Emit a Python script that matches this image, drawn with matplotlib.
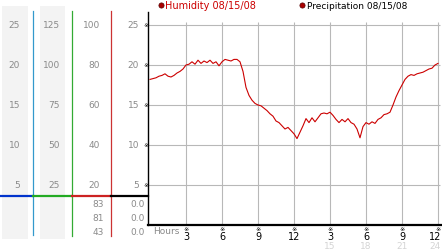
import matplotlib.pyplot as plt
from matplotlib.transforms import blended_transform_factory as blend

# humidity readings every 15 minutes, 0h .. 24h
hours = [i * 0.25 for i in range(97)]
humidity = [
    18.2, 18.3, 18.4, 18.6, 18.7, 18.9, 18.6, 18.5, 18.7, 19.0, 19.2, 19.5,
    20.0, 20.1, 20.4, 20.1, 20.6, 20.2, 20.5, 20.3, 20.6, 20.2, 20.4, 19.9,
    20.4, 20.7, 20.6, 20.5, 20.7, 20.7, 20.4, 19.2, 17.2, 16.2, 15.6, 15.2,
    15.0, 14.9, 14.6, 14.3, 13.9, 13.6, 13.0, 12.8, 12.4, 12.0, 12.2, 11.8,
    11.4, 10.8, 11.6, 12.4, 13.3, 12.8, 13.4, 12.9, 13.4, 13.9, 14.0, 13.9,
    14.1, 13.7, 13.2, 12.8, 13.2, 12.9, 13.3, 12.8, 12.6, 12.0, 10.9, 12.3,
    12.8, 12.6, 12.9, 12.7, 13.2, 13.4, 13.8, 13.9, 14.1, 15.0, 16.0, 16.8,
    17.5, 18.2, 18.6, 18.8, 18.7, 18.9, 19.0, 19.1, 19.3, 19.5, 19.6, 20.0,
    20.2,
]

grid_hours = [3, 6, 9, 12, 15, 18, 21, 24]
hour_labels = ["3", "6", "9", "12", "3", "6", "9", "12"]
late_hours = [15, 18, 21, 24]
y_ticks = [5, 10, 15, 20, 25]
col1 = ["5", "10", "15", "20", "25"]
col2 = ["25", "50", "75", "100", "125"]
col3 = ["20", "40", "60", "80", "100"]
col4 = ["5", "10", "15", "20", "25"]
stats3 = ["83", "81", "43"]
stats4 = ["0.0", "0.0", "0.0"]

W, H = 442, 253
fig = plt.figure(figsize=(W / 100, H / 100), dpi=100)
fonts = ["DejaVu Sans", "Noto Sans CJK SC"]

bg = fig.add_axes([0, 0, 1, 1])
bg.set_xlim(0, W)
bg.set_ylim(H, 0)
bg.axis("off")

ax = fig.add_axes([148 / W, (H - 226) / H, (441 - 148) / W, (226 - 13) / H])
ax.patch.set_alpha(0)
ax.set_xlim(-2 / 12, 291 / 12)
ax.set_ylim(0, 213 / 8)
ax.vlines(grid_hours, 0, 25.4, color="#b8b8b8", lw=0.8, zorder=1)
ax.hlines(y_ticks, -2 / 12, 24.2, color="#b8b8b8", lw=0.8, zorder=1)
ax.plot(hours, humidity, color="#cc0000", lw=0.8, zorder=3)
ax.set_xticks([])
ax.set_yticks([])
for s in ["top", "right"]:
    ax.spines[s].set_visible(False)
ax.spines["left"].set_linewidth(1.0)
ax.spines["bottom"].set_linewidth(1.6)

# left scale columns
bg.add_patch(plt.Rectangle((2, 7), 26, 233, color="#f3f3f3", lw=0))
bg.add_patch(plt.Rectangle((40, 7), 25, 233, color="#f3f3f3", lw=0))
bg.plot([33, 33], [12, 236], color="#3399cc", lw=0.9)
bg.plot([72, 72], [12, 237], color="#33aa33", lw=0.9)
bg.plot([111, 111], [12, 237], color="#cc3333", lw=0.9)
bg.plot([0, 33], [197, 197], color="#0033cc", lw=1.6)
bg.plot([33, 72], [197, 197], color="#22aa22", lw=1.6)
bg.plot([72, 111], [197, 197], color="#cc2222", lw=1.6)
bg.plot([111, 148], [197, 197], color="black", lw=1.6)

ty = blend(bg.transData, ax.transData)
gray = "#8a8a8a"
for v, a, b, c, d in zip(y_ticks, col1, col2, col3, col4):
    bg.text(20, v, a, transform=ty, ha="right", va="center", fontsize=6.5, color=gray)
    bg.text(60, v, b, transform=ty, ha="right", va="center", fontsize=6.5, color=gray)
    bg.text(100, v, c, transform=ty, ha="right", va="center", fontsize=6.5, color=gray)
    bg.text(139, v, d, transform=ty, ha="right", va="center", fontsize=6.5, color=gray)
    bg.text(146, v, "※", transform=ty, ha="center", va="center", fontsize=4.5,
            family=fonts, color="black")

for i, (a, b) in enumerate(zip(stats3, stats4)):
    y = 205 + i * 14
    bg.text(104, y, a, ha="right", va="center", fontsize=6.5, color=gray)
    bg.text(145, y, b, ha="right", va="center", fontsize=6.5, color=gray)

# x tick labels (last one kept inside the right edge)
tx = blend(ax.transData, bg.transData)
for h, lab in zip(grid_hours, hour_labels):
    bg.text(h, 230, "※", transform=tx, ha="center", va="center", fontsize=4.5,
            family=fonts, color="black")
    if h == grid_hours[-1]:
        bg.text(441, 237.5, lab, ha="right", va="center", fontsize=7, color="black")
    else:
        bg.text(h, 237.5, lab, transform=tx, ha="center", va="center", fontsize=7,
                color="black")
for h in late_hours:
    if h == late_hours[-1]:
        bg.text(441, 247, str(h), ha="right", va="center", fontsize=6.5,
                color="#d4d4d4")
    else:
        bg.text(h, 247, str(h), transform=tx, ha="center", va="center",
                fontsize=6.5, color="#d4d4d4")
bg.text(153, 231.5, "Hours", ha="left", va="center", fontsize=6.5, color=gray)

# legend
bg.scatter([161, 302], [6, 6], s=14, color="#aa0000", edgecolor="#550000", lw=0.5)
bg.text(165, 6, "Humidity 08/15/08", ha="left", va="center", fontsize=7,
        color="#cc0000")
bg.text(307, 6, "Precipitation 08/15/08", ha="left", va="center", fontsize=6.5,
        color="black")

fig.savefig("out.png", dpi=100)
